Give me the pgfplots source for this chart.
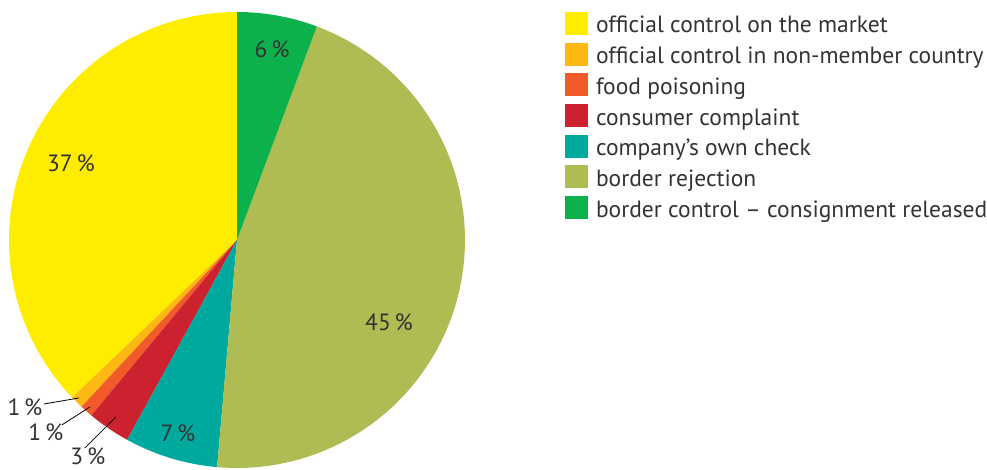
\documentclass[border=0pt]{standalone}
\usepackage{fontspec}
\setmainfont{PT Sans}
\usepackage{pgfplots}
\pgfplotsset{compat=1.18}

\definecolor{cMarket}{RGB}{255,237,0}
\definecolor{cNonMember}{RGB}{253,184,19}
\definecolor{cPoison}{RGB}{241,90,41}
\definecolor{cComplaint}{RGB}{204,33,46}
\definecolor{cOwnCheck}{RGB}{0,169,157}
\definecolor{cRejection}{RGB}{175,187,83}
\definecolor{cReleased}{RGB}{13,177,75}
\definecolor{txt}{RGB}{51,51,51}

\begin{document}
\begin{tikzpicture}
\useasboundingbox (0,0) rectangle (987bp,470bp);
% slices run clockwise from the top; 1 % = 3.6 degrees
% shares: 37.1, 0.9, 0.9, 3.0, 6.6, 45.7, 5.7
\begin{axis}[
    at={(237bp,230bp)}, anchor=origin,
    x=228bp, y=228bp,
    xmin=-1, xmax=1, ymin=-1, ymax=1,
    hide axis, clip=false,
    font=\fontsize{23.5bp}{27bp}\selectfont,
    legend style={
        at={(axis cs:1.4386,1.0)}, anchor=north west,
        draw=none, fill=none, inner sep=0pt, outer sep=0pt,
        text=txt, row sep=4.7bp, column sep=8bp,
        font=\fontsize{23.5bp}{27bp}\selectfont,
        nodes={inner sep=0pt, text height=17bp, text depth=5bp},
    },
    legend cell align=left,
    legend image code/.code={\fill[#1] (0bp,-8bp) rectangle (23bp,15bp);},
]
% official control on the market
\addplot[fill=cMarket, draw=none, data cs=polar, domain=-136.3:-270, samples=80] ({x},{1}) -- (axis cs:0,0) -- cycle;
\addlegendentry{official control on the market}
% official control in non-member country
\addplot[fill=cNonMember, draw=none, data cs=polar, domain=-133.0:-136.3, samples=6] ({x},{1}) -- (axis cs:0,0) -- cycle;
\addlegendentry{official control in non-member country}
% food poisoning
\addplot[fill=cPoison, draw=none, data cs=polar, domain=-129.7:-133.0, samples=6] ({x},{1}) -- (axis cs:0,0) -- cycle;
\addlegendentry{food poisoning}
% consumer complaint
\addplot[fill=cComplaint, draw=none, data cs=polar, domain=-118.8:-129.7, samples=10] ({x},{1}) -- (axis cs:0,0) -- cycle;
\addlegendentry{consumer complaint}
% company's own check
\addplot[fill=cOwnCheck, draw=none, data cs=polar, domain=-95.0:-118.8, samples=20] ({x},{1}) -- (axis cs:0,0) -- cycle;
\addlegendentry{company’s own check}
% border rejection
\addplot[fill=cRejection, draw=none, data cs=polar, domain=69.5:-95.0, samples=90] ({x},{1}) -- (axis cs:0,0) -- cycle;
\addlegendentry{border rejection}
% border control - consignment released
\addplot[fill=cReleased, draw=none, data cs=polar, domain=90:69.5, samples=16] ({x},{1}) -- (axis cs:0,0) -- cycle;
\addlegendentry{border control – consignment released}

\begin{scope}[every node/.style={text=txt, inner sep=0pt}]
\node at (axis cs:0.154,0.838) {6\,\%};
\node at (axis cs:-0.728,0.338) {37\,\%};
\node at (axis cs:0.667,-0.360) {45\,\%};
\node at (axis cs:-0.259,-0.846) {7\,\%};
\node at (axis cs:-0.930,-0.732) {1\,\%};
\node at (axis cs:-0.838,-0.842) {1\,\%};
\node at (axis cs:-0.654,-0.950) {3\,\%};
\end{scope}
\draw[black, line width=0.8bp] (axis cs:-0.846,-0.719) -- (axis cs:-0.693,-0.693);
\draw[black, line width=0.8bp] (axis cs:-0.768,-0.811) -- (axis cs:-0.645,-0.732);
\draw[black, line width=0.8bp] (axis cs:-0.667,-0.912) -- (axis cs:-0.531,-0.776);
\end{axis}
\end{tikzpicture}
\end{document}
